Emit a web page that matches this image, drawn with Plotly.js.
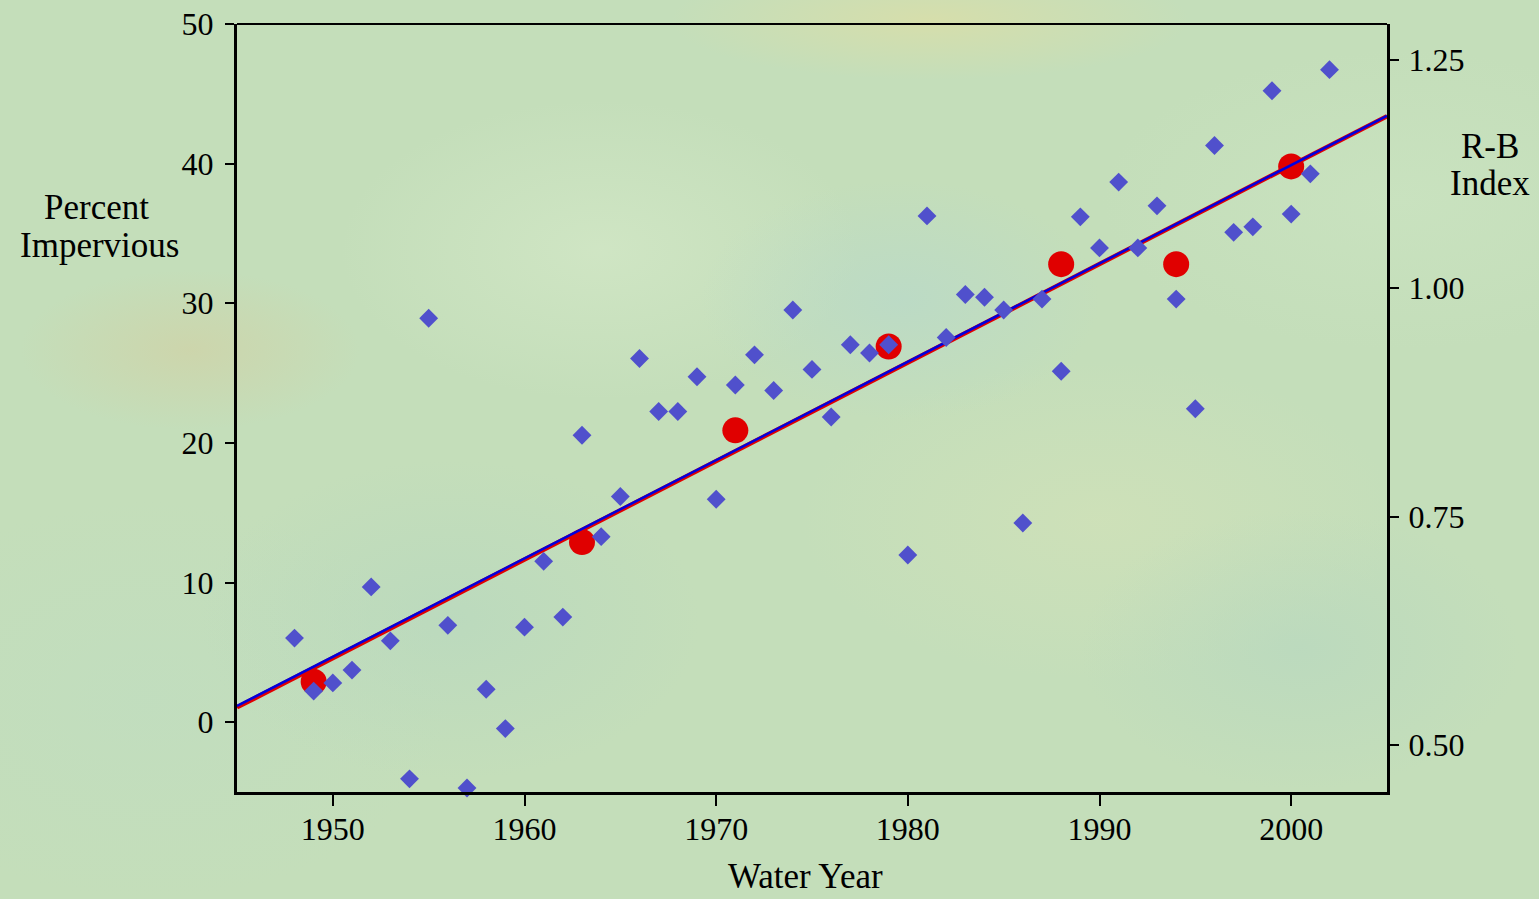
<!DOCTYPE html>
<html>
<head>
<meta charset="utf-8">
<script src="https://cdn.plot.ly/plotly-3.0.1.min.js"></script>
<style>
  html, body { margin: 0; padding: 0; width: 1539px; height: 899px; overflow: hidden; }
  body {
    background-color: #c4deba;
    background-image:
      radial-gradient(ellipse 170px 80px at 190px 350px, rgba(212,206,160,0.55), rgba(212,206,160,0) 100%),
      radial-gradient(ellipse 260px 60px at 930px 20px, rgba(222,222,165,0.7), rgba(222,222,165,0) 100%),
      radial-gradient(ellipse 200px 120px at 900px 300px, rgba(182,216,205,0.6), rgba(182,216,205,0) 100%),
      radial-gradient(ellipse 220px 140px at 1300px 650px, rgba(182,215,192,0.6), rgba(182,215,192,0) 100%),
      radial-gradient(ellipse 260px 150px at 600px 250px, rgba(210,231,198,0.8), rgba(210,231,198,0) 100%),
      radial-gradient(ellipse 300px 160px at 1100px 520px, rgba(208,225,184,0.8), rgba(208,225,184,0) 100%),
      radial-gradient(ellipse 250px 160px at 450px 620px, rgba(180,214,192,0.55), rgba(180,214,192,0) 100%),
      radial-gradient(ellipse 300px 200px at 150px 700px, rgba(192,221,192,0.7), rgba(192,221,192,0) 100%),
      radial-gradient(ellipse 300px 150px at 1400px 200px, rgba(202,227,192,0.8), rgba(202,227,192,0) 100%);
  }
  #chart { width: 1539px; height: 899px; }
</style>
</head>
<body>
<div id="chart"></div>
<script>
// Percent impervious (left axis), red circles
const imperviousYears = [1949, 1963, 1971, 1979, 1988, 1994, 2000];
const imperviousPct = [2.9, 12.9, 20.9, 26.9, 32.8, 32.8, 39.8];

// Annual R-B index (right axis), blue diamonds
const rbYears = [1948, 1949, 1950, 1951, 1952, 1953, 1954, 1955, 1956, 1957,
                 1958, 1959, 1960, 1961, 1962, 1963, 1964, 1965, 1966, 1967,
                 1968, 1969, 1970, 1971, 1972, 1973, 1974, 1975, 1976, 1977,
                 1978, 1979, 1980, 1981, 1982, 1983, 1984, 1985, 1986, 1987,
                 1988, 1989, 1990, 1991, 1992, 1993, 1994, 1995, 1996, 1997,
                 1998, 1999, 2000, 2001, 2002];
const rbIndex = [0.617, 0.559, 0.568, 0.582, 0.673, 0.614, 0.463, 0.967, 0.631, 0.453,
                 0.561, 0.518, 0.629, 0.701, 0.640, 0.839, 0.728, 0.772, 0.923, 0.865,
                 0.865, 0.903, 0.769, 0.894, 0.927, 0.888, 0.976, 0.911, 0.859, 0.938,
                 0.929, 0.938, 0.708, 1.079, 0.946, 0.993, 0.990, 0.976, 0.743, 0.988,
                 0.909, 1.078, 1.044, 1.116, 1.044, 1.090, 0.988, 0.868, 1.156, 1.061,
                 1.067, 1.216, 1.081, 1.125, 1.239];

const xRange = [1945, 2005];
const xTicks = [1950, 1960, 1970, 1980, 1990, 2000];
const leftRange = [-5, 50];
const leftTicks = [0, 10, 20, 30, 40, 50];
const rightRange = [0.4486, 1.289];
const rightTicks = [0.50, 0.75, 1.00, 1.25];

function linFit(xs, ys) {
  const n = xs.length;
  const mx = xs.reduce((a, b) => a + b, 0) / n;
  const my = ys.reduce((a, b) => a + b, 0) / n;
  let sxy = 0, sxx = 0;
  for (let i = 0; i < n; i++) { sxy += (xs[i] - mx) * (ys[i] - my); sxx += (xs[i] - mx) ** 2; }
  const b = sxy / sxx;
  return x => my + b * (x - mx);
}
const fImp = linFit(imperviousYears, imperviousPct);
const fRB = linFit(rbYears, rbIndex);

const FONT = 'Liberation Serif, Times New Roman, serif';

const traces = [
  { x: imperviousYears, y: imperviousPct, type: 'scatter', mode: 'markers',
    marker: { symbol: 'circle', size: 26, color: '#e00000', line: { width: 0 } },
    xaxis: 'x', yaxis: 'y', showlegend: false, cliponaxis: false },
  { x: xRange, y: xRange.map(fImp), type: 'scatter', mode: 'lines',
    line: { color: '#e00000', width: 4.5 }, xaxis: 'x', yaxis: 'y', showlegend: false },
  { x: xRange, y: xRange.map(fRB), type: 'scatter', mode: 'lines',
    line: { color: '#0000e0', width: 2.5 }, xaxis: 'x', yaxis: 'y2', showlegend: false },
  { x: rbYears, y: rbIndex, type: 'scatter', mode: 'markers',
    marker: { symbol: 'diamond', size: 14.5, color: '#5050cc', line: { width: 0 } },
    xaxis: 'x', yaxis: 'y2', showlegend: false, cliponaxis: false }
];

const axCommon = {
  showgrid: false, zeroline: false, showline: true, linecolor: '#000', linewidth: 3,
  ticks: 'outside', tickcolor: '#000', tickwidth: 2,
  tickfont: { family: FONT, size: 32, color: '#000' }
};

const layout = {
  width: 1539, height: 899,
  margin: { l: 237, r: 152, t: 24, b: 107, pad: 0 },
  paper_bgcolor: 'rgba(0,0,0,0)', plot_bgcolor: 'rgba(0,0,0,0)',
  font: { family: FONT, color: '#000' },
  showlegend: false,
  xaxis: Object.assign({}, axCommon, { range: xRange, tickmode: 'array', tickvals: xTicks,
    ticklen: 11, ticklabelstandoff: -4 }),
  yaxis: Object.assign({}, axCommon, { range: leftRange, tickmode: 'array', tickvals: leftTicks,
    ticklen: 9, ticklabelstandoff: 5 }),
  yaxis2: Object.assign({}, axCommon, { range: rightRange, tickmode: 'array', tickvals: rightTicks,
    tickformat: '.2f', ticklen: 9, ticklabelstandoff: 3, overlaying: 'y', side: 'right' }),
  shapes: [
    { type: 'line', xref: 'paper', yref: 'paper', x0: 0, x1: 1, y0: 1, y1: 1,
      line: { color: '#000', width: 2 } }
  ],
  annotations: [
    { text: 'Percent', xref: 'paper', yref: 'paper', x: -0.122, y: 0.761,
      xanchor: 'center', yanchor: 'middle', showarrow: false, font: { family: FONT, size: 35, color: '#000' } },
    { text: 'Impervious', xref: 'paper', yref: 'paper', x: -0.120, y: 0.712,
      xanchor: 'center', yanchor: 'middle', showarrow: false, font: { family: FONT, size: 35, color: '#000' } },
    { text: 'R-B', xref: 'paper', yref: 'paper', x: 1.0895, y: 0.840,
      xanchor: 'center', yanchor: 'middle', showarrow: false, font: { family: FONT, size: 35, color: '#000' } },
    { text: 'Index', xref: 'paper', yref: 'paper', x: 1.0895, y: 0.792,
      xanchor: 'center', yanchor: 'middle', showarrow: false, font: { family: FONT, size: 35, color: '#000' } },
    { text: 'Water Year', xref: 'paper', yref: 'paper', x: 0.4945, y: -0.1385,
      xanchor: 'center', yanchor: 'bottom', showarrow: false, font: { family: FONT, size: 35, color: '#000' } }
  ]
};

Plotly.newPlot('chart', traces, layout, { staticPlot: true, displayModeBar: false });
</script>
</body>
</html>
